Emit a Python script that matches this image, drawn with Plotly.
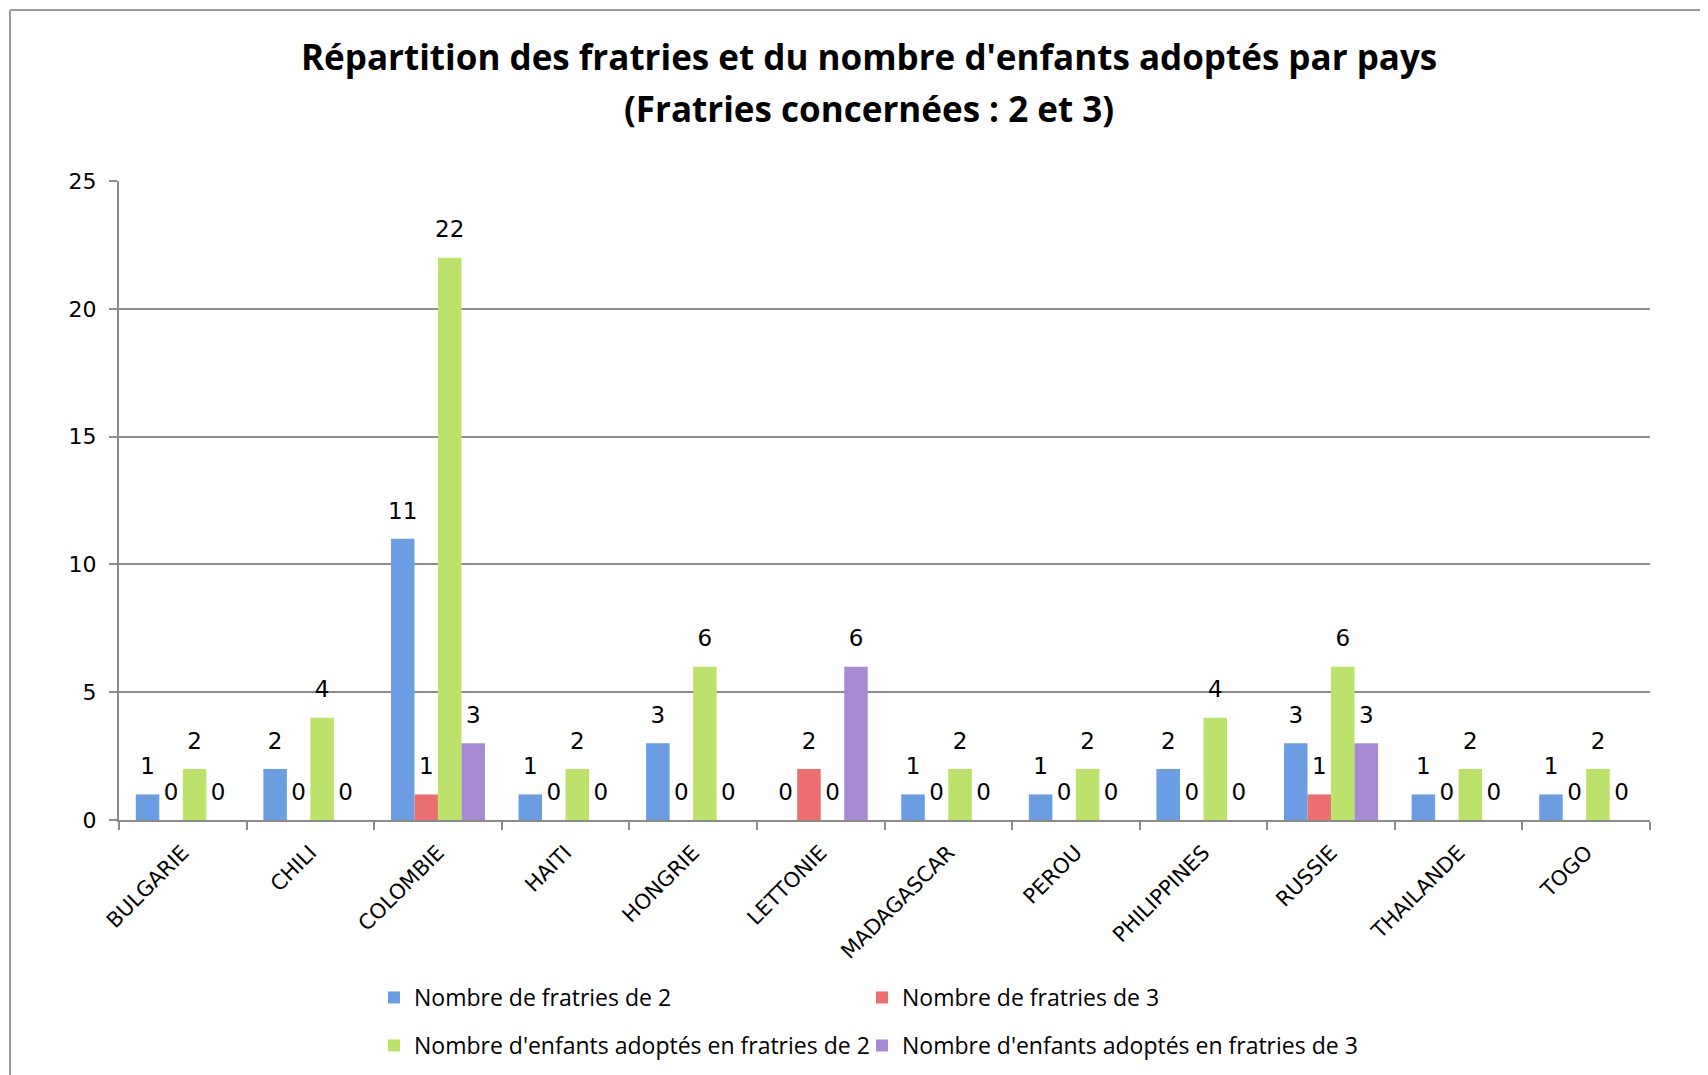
import plotly.graph_objects as go

categories = ["BULGARIE", "CHILI", "COLOMBIE", "HAITI", "HONGRIE", "LETTONIE",
              "MADAGASCAR", "PEROU", "PHILIPPINES", "RUSSIE", "THAILANDE", "TOGO"]
fratries_2 = [1, 2, 11, 1, 3, 0, 1, 1, 2, 3, 1, 1]
fratries_3 = [0, 0, 1, 0, 0, 2, 0, 0, 0, 1, 0, 0]
enfants_2 = [2, 4, 22, 2, 6, 0, 2, 2, 4, 6, 2, 2]
enfants_3 = [0, 0, 3, 0, 0, 6, 0, 0, 0, 3, 0, 0]
series_names = ["Nombre de fratries de 2", "Nombre de fratries de 3",
                "Nombre d'enfants adoptés en fratries de 2", "Nombre d'enfants adoptés en fratries de 3"]
y_ticks = [0, 5, 10, 15, 20, 25]

colors = ["#6b9de3", "#ec6f6f", "#bde26c", "#a68bd3"]
series = [fratries_2, fratries_3, enfants_2, enfants_3]
legends = ["legend", "legend2", "legend3", "legend4"]

OFF = 8  # page body margin
W, H = 1708, 1075
# plot area in page pixel coordinates
PL, PR, PT, PB = 119, 1650, 181, 820
L, T = PL - OFF, PT - OFF
R = W - (PR - OFF)
B = H - (PB - OFF)
pw, ph = PR - PL, PB - PT

fig = go.Figure()
for name, vals, col, lg in zip(series_names, series, colors, legends):
    fig.add_trace(go.Bar(
        x=categories, y=vals, name=name, legend=lg,
        marker=dict(color=col, line=dict(width=0)),
        text=[str(v) for v in vals], textposition="outside",
        texttemplate="<span style='font-size:23px'>%{text}</span><br> ",
        textfont=dict(family="DejaVu Sans", size=11, color="#000000"),
        constraintext="none",
        cliponaxis=False,
    ))

def px_x(p):  # page px -> paper
    return (p - PL) / pw

def px_y(p):
    return (PB - p) / ph

legend_font = dict(family="Open Sans", size=23, color="#000000")
leg_x = [374, 862, 374, 862]
leg_y = [976, 976, 1024, 1024]
legend_layouts = {}
for lg, lx, ly in zip(legends, leg_x, leg_y):
    legend_layouts[lg] = dict(orientation="h", x=px_x(lx), xanchor="left", y=px_y(ly), yanchor="top",
                              itemwidth=30, font=legend_font, bgcolor="rgba(0,0,0,0)")

fig.update_layout(
    width=W, height=H,
    margin=dict(l=L, r=R, t=T, b=B, autoexpand=False),
    paper_bgcolor="white", plot_bgcolor="white",
    barmode="group", bargap=0.263, bargroupgap=0,
    font=dict(family="DejaVu Sans", color="#000000"),
    showlegend=True,
    **legend_layouts,
    xaxis=dict(type="category", tickangle=-45, showgrid=False,
               showline=True, linecolor="#8c8c8c", linewidth=2,
               ticks="outside", tickson="boundaries", ticklen=8, tickcolor="#8c8c8c", tickwidth=2,
               ticklabelstandoff=10,
               tickfont=dict(family="DejaVu Sans", size=21, color="#000000")),
    yaxis=dict(range=[0, 25], tickvals=y_ticks, showgrid=True, gridcolor="#8c8c8c", gridwidth=1.5,
               showline=True, linecolor="#8c8c8c", linewidth=2, zeroline=False,
               ticks="outside", ticklen=8, tickcolor="#8c8c8c", tickwidth=2, ticklabelstandoff=8,
               tickfont=dict(family="DejaVu Sans", size=22, color="#000000")),
    annotations=[
        dict(text="<b>Répartition des fratries et du nombre d'enfants adoptés par pays</b>",
             xref="paper", yref="paper", x=px_x(869), y=px_y(56), xanchor="center", yanchor="middle",
             showarrow=False, font=dict(family="Open Sans", size=35, color="#000000")),
        dict(text="<b>(Fratries concernées : 2 et 3)</b>",
             xref="paper", yref="paper", x=px_x(869), y=px_y(109), xanchor="center", yanchor="middle",
             showarrow=False, font=dict(family="Open Sans", size=35, color="#000000")),
    ],
    shapes=[
        dict(type="line", xref="paper", yref="paper", x0=px_x(10), x1=px_x(1720), y0=px_y(10), y1=px_y(10),
             line=dict(color="#9a9a9a", width=2)),
        dict(type="line", xref="paper", yref="paper", x0=px_x(10), x1=px_x(10), y0=px_y(10), y1=px_y(1090),
             line=dict(color="#9a9a9a", width=2)),
    ],
)

fig.write_html("out.html")
